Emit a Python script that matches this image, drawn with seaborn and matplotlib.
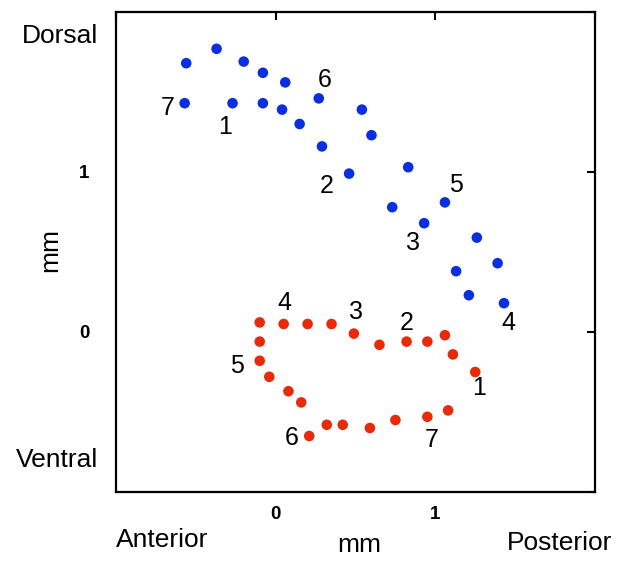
import numpy as np
import pandas as pd
import matplotlib
matplotlib.use('Agg')
import matplotlib.pyplot as plt
import seaborn as sns

# ── Data (mm) ──────────────────────────────────────────────────────────────
blue_x = [-0.56, -0.37, -0.20, -0.08, 0.06, -0.57, -0.27, -0.08, 0.04, 0.15, 0.27, 0.29,
          0.46, 0.54, 0.60, 0.83, 0.73, 0.93, 1.06, 1.26, 1.39, 1.13, 1.21, 1.43]
blue_y = [1.68, 1.77, 1.69, 1.62, 1.56, 1.43, 1.43, 1.43, 1.39, 1.30, 1.46, 1.16,
          0.99, 1.39, 1.23, 1.03, 0.78, 0.68, 0.81, 0.59, 0.43, 0.38, 0.23, 0.18]

red_x = [-0.10, 0.05, 0.20, 0.35, 0.49, 0.65, 0.82, 0.95, 1.06, 1.11, 1.25, -0.10,
         -0.10, -0.04, 0.08, 0.16, 0.21, 0.32, 0.42, 0.59, 0.75, 0.95, 1.08]
red_y = [0.06, 0.05, 0.05, 0.05, -0.01, -0.08, -0.06, -0.06, -0.02, -0.14, -0.25, -0.06,
         -0.18, -0.28, -0.37, -0.44, -0.65, -0.58, -0.58, -0.60, -0.55, -0.53, -0.49]

blue_lbl   = ['7', '1', '6', '2', '5', '3', '4']
blue_lbl_x = [-0.675, -0.32, 0.31, 0.32, 1.13, 0.86, 1.46]
blue_lbl_y = [1.40, 1.28, 1.575, 0.91, 0.92, 0.555, 0.055]

red_lbl   = ['4', '3', '2', '1', '5', '6', '7']
red_lbl_x = [0.055, 0.505, 0.82, 1.275, -0.24, 0.10, 0.975]
red_lbl_y = [0.18, 0.125, 0.055, -0.35, -0.21, -0.66, -0.675]

x_ticks = [-1, 0, 1, 2]
x_tick_labels = ['', '0', '1', '']
y_ticks = [-1, 0, 1, 2]
y_tick_labels = ['', '0', '1', '']

df = pd.DataFrame({
    'x': blue_x + red_x,
    'y': blue_y + red_y,
    'group': ['blue'] * len(blue_x) + ['red'] * len(red_x),
})
palette = {'blue': '#0a2ee0', 'red': '#e82a0a'}

sns.set_style('white')
plt.rcParams['font.family'] = ['Liberation Sans', 'DejaVu Sans']
plt.rcParams['text.color'] = 'black'
plt.rcParams['axes.labelcolor'] = 'black'

fig = plt.figure(figsize=(6.21, 5.65), dpi=100)
ax = fig.add_axes([116 / 621, 1 - 492 / 565, 479 / 621, 480 / 565])

sns.scatterplot(data=df, x='x', y='y', hue='group', palette=palette,
                s=58, linewidth=0, legend=False, ax=ax)

for t, x, y in zip(blue_lbl + red_lbl, blue_lbl_x + red_lbl_x, blue_lbl_y + red_lbl_y):
    ax.text(x, y, t, ha='center', va='center', fontsize=18, color='black')

ax.set_xlim(-1, 2)
ax.set_ylim(-1, 2)
ax.set_xticks(x_ticks, x_tick_labels, fontweight='bold', fontsize=13.5)
ax.set_yticks(y_ticks, y_tick_labels, fontweight='bold', fontsize=13.5)
ax.tick_params(axis='both', direction='in', length=6, width=1.5,
               top=True, right=True, colors='black', labelcolor='black')
ax.tick_params(axis='x', pad=10)
ax.tick_params(axis='y', pad=19)
ax.set_xlabel('')
ax.set_ylabel('')
for sp in ax.spines.values():
    sp.set_visible(True)
    sp.set_color('black')
    sp.set_linewidth(1.6)

# outer annotation texts (pixel positions -> figure fraction)
def ftext(px, py, s, **kw):
    fig.text(px / 621, 1 - py / 565, s, fontsize=19, va='center', color='black', **kw)

ftext(98, 36, 'Dorsal', ha='right')
ftext(98, 460, 'Ventral', ha='right')
ftext(116, 540, 'Anterior', ha='left')
ftext(612, 543, 'Posterior', ha='right')
ftext(359, 545, 'mm', ha='center')
ftext(50, 250, 'mm', ha='center', rotation=90)

fig.savefig('out.png', dpi=100)
